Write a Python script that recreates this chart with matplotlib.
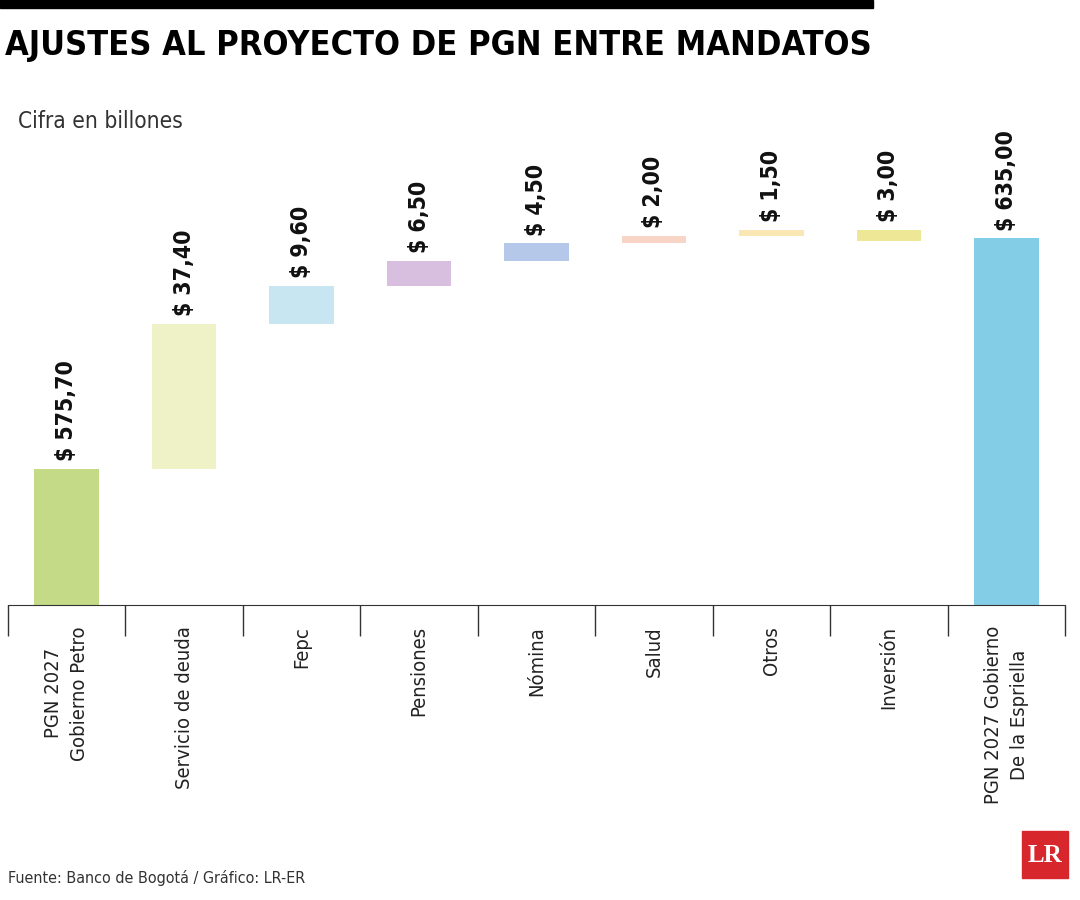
import matplotlib
matplotlib.use("Agg")
import matplotlib.pyplot as plt
from matplotlib.patches import Rectangle

categories = ["PGN 2027\nGobierno Petro", "Servicio de deuda", "Fepc", "Pensiones", "Nómina",
              "Salud", "Otros", "Inversión", "PGN 2027 Gobierno\nDe la Espriella"]
values = [575.70, 37.40, 9.60, 6.50, 4.50, 2.00, 1.50, 3.00, 635.00]
direction = [0, 1, 1, 1, 1, 1, 1, -1, 0]  # 0 = total bar
labels = ["$ 575,70", "$ 37,40", "$ 9,60", "$ 6,50", "$ 4,50", "$ 2,00", "$ 1,50", "$ 3,00", "$ 635,00"]
colors = ["#c5da87", "#eef2c6", "#c8e6f1", "#d9bfdf", "#b5c8ea", "#f8d5c6", "#fbe7b3", "#ede796", "#84cde6"]

FONT = ["DejaVu Sans"]
ST = "condensed"
ymin, ymax = 540.8, 660

fig = plt.figure(figsize=(10.8, 9), dpi=100)
ax = fig.add_axes([8/1080, 1-605/900, 1057/1080, 464/900])
ax.set_xlim(-0.5, len(values)-0.5)
ax.set_ylim(ymin, ymax)

cum = 0
w = 0.55
for i, v in enumerate(values):
    if direction[i] == 0:
        bot, top = ymin, v
        cum = v
    elif direction[i] > 0:
        bot, top = cum, cum + v
        cum = top
    else:
        bot, top = cum - v, cum
        cum = bot
    ax.bar(i, top - bot, bottom=bot, width=w, color=colors[i], zorder=2)
    ax.text(i, top + 2, labels[i], rotation=90, ha="center", va="bottom",
            fontsize=16.5, fontweight="bold", family=FONT, fontstretch=ST, color="#111111")

for s in ["top", "right", "left"]:
    ax.spines[s].set_visible(False)
ax.spines["bottom"].set_color("#333333")
ax.set_yticks([])
ax.set_xticks([i - 0.5 for i in range(len(values)+1)], minor=False)
ax.set_xticklabels([])
ax.tick_params(axis="x", length=22, color="#333333", width=1)
for i, c in enumerate(categories):
    ax.text(i, -0.045, c, transform=ax.get_xaxis_transform(), rotation=90,
            ha="center", va="top", fontsize=14.5, family=FONT, fontstretch=ST, color="#222222",
            linespacing=1.45)

fig.add_artist(Rectangle((0, 1-8/900), 873/1080, 8/900, transform=fig.transFigure, color="black"))
fig.text(5/1080, 1-45/900, "AJUSTES AL PROYECTO DE PGN ENTRE MANDATOS", fontsize=24.6,
         fontweight="bold", family=FONT, fontstretch=ST, va="center", ha="left")
fig.text(18/1080, 1-121/900, "Cifra en billones", fontsize=16.3, family=FONT, fontstretch=ST,
         va="center", color="#333333")
fig.text(8/1080, 1-878/900, "Fuente: Banco de Bogotá / Gráfico: LR-ER", fontsize=11.5, family=FONT,
         fontstretch=ST, va="center", color="#333333")
fig.add_artist(Rectangle((1022/1080, 1-878/900), 46/1080, 47/900, transform=fig.transFigure, color="#d7262c"))
fig.text(1045/1080, 1-855/900, "LR", fontsize=18, fontweight="bold", family="Liberation Serif",
         color="white", ha="center", va="center")

fig.savefig("out.png", dpi=100)
